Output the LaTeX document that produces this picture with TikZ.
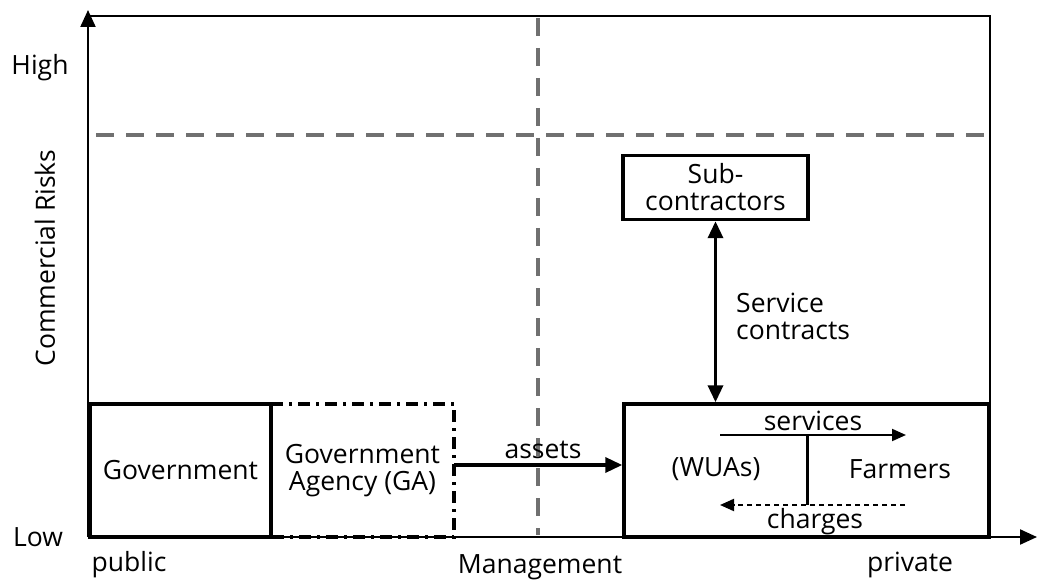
\documentclass[tikz,border=0pt]{standalone}
\usepackage{fontspec}
\setmainfont{Open Sans}
\usetikzlibrary{arrows.meta}
\definecolor{guide}{HTML}{707070}
\begin{document}
\begin{tikzpicture}[x=1pt,y=-1pt,
  font=\fontsize{26.5}{27}\selectfont,
  axis/.style={line width=2.2pt,-{Triangle[length=17pt,width=15pt]}},
  frameline/.style={line width=1.5pt},
  guideline/.style={guide,line width=4.5pt,dash pattern=on 18pt off 12pt},
  boxnode/.style={draw,line width=3.5pt,inner sep=0pt},
  gabox/.style={line width=3.5pt,dash pattern=on 12pt off 6pt on 3pt off 6pt},
  flow/.style={line width=3.5pt,-{Triangle[length=17pt,width=15pt]}},
  thinflow/.style={line width=2pt,-{Triangle[length=14pt,width=12pt]}},
  lbl/.style={inner sep=0pt}]
\useasboundingbox (0,0) rectangle (1039,580);

% frame and guide lines
\draw[frameline] (88,16) -- (990,16) -- (990,537);
\draw[guideline] (96,135) -- (988,135);
\draw[guideline] (538,18) -- (538,535);

% axes
\coordinate (origin) at (88,537);
\coordinate (ytip) at (88,10);
\coordinate (xtip) at (1037,537);
\draw[axis] (origin) -- (ytip);
\draw[axis] (origin) -- (xtip);

% boxes
\node[boxnode,minimum width=181pt,minimum height=133pt] (gov) at (180.5,470.5) {Government};
\draw[gabox] (271,404) -- (454,404) -- (454,537) -- (271,537);
\node[align=center,inner sep=0pt,minimum width=183pt,minimum height=133pt] (ga) at (362.5,470.5) {Government\\Agency (GA)};
\draw[line width=3.5pt] (271,404) -- (271,537);
\node[boxnode,minimum width=365pt,minimum height=133pt] (wua) at (806.5,470.5) {};
\node[boxnode,minimum width=185pt,minimum height=64pt,align=center] (sub) at (715.5,187.5) {Sub-\\contractors};

% flows
\draw[flow] (ga.east |- 0,465) -- (wua.west |- 0,465);
\node (assets) at (543,450) {assets};
\draw[line width=3.5pt,{Triangle[length=17pt,width=15pt]}-{Triangle[length=17pt,width=15pt]}] (sub.south) -- (sub.south |- wua.north);
\node[anchor=west,align=left,inner sep=0pt] (sc) at (736,316) {Service\\contracts};

% inside the WUA box
\node (wuas) at (716,469) {(WUAs)};
\node (farmers) at (900,469) {Farmers};
\coordinate (sL) at (720,435);
\coordinate (sR) at (906,435);
\coordinate (cR) at (905,505);
\coordinate (cL) at (720,505);
\coordinate (midtop) at (807,435);
\coordinate (midbot) at (807,505);
\draw[thinflow] (sL) -- (sR);
\node (services) at (813,421) {services};
\draw[thinflow,dash pattern=on 5pt off 4pt] (cR) -- (cL);
\node (charges) at (815,522) {charges};
\draw[line width=3pt] (midtop) -- (midbot);

% axis labels
\node (high) at (40,68) {High};
\node (low) at (38,537) {Low};
\node[rotate=90] (risk) at (45,258) {Commercial Risks};
\node (public) at (129,565) {public};
\node (mgmt) at (540,567) {Management};
\node (private) at (910,565) {private};
\end{tikzpicture}
\end{document}
